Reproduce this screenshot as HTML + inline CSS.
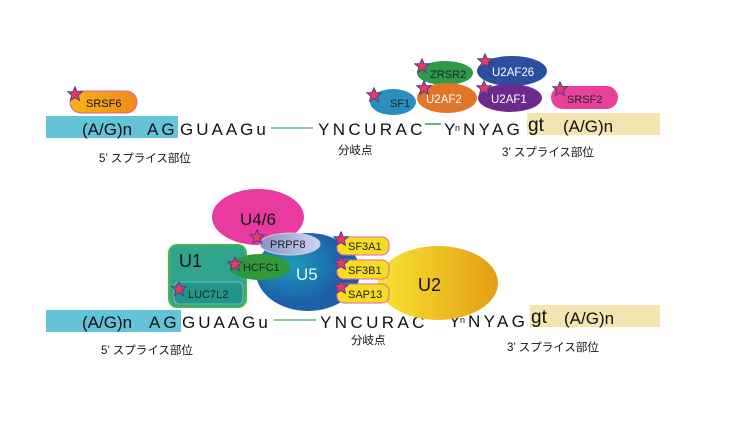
<!DOCTYPE html>
<html><head><meta charset="utf-8"><style>
html,body{margin:0;padding:0;background:#fff;width:737px;height:432px;overflow:hidden}
svg{display:block}
text{font-family:"Liberation Sans","Noto Sans CJK JP",sans-serif}
</style></head><body>
<svg width="737" height="432" viewBox="0 0 737 432" xmlns="http://www.w3.org/2000/svg">
<defs>
<symbol id="st" viewBox="-10 -10 20 20"><polygon points="0,-9 2.6,-3 9,-2.8 4,1.6 5.6,8 0,4.5 -5.6,8 -4,1.6 -9,-2.8 -2.6,-3" fill="#e83a5e" stroke="#4b3a9a" stroke-width="1.2"/></symbol>
<linearGradient id="og" x1="0" x2="1"><stop offset="0" stop-color="#f7b417"/><stop offset="1" stop-color="#ee8a1c"/></linearGradient>
<linearGradient id="yg" x1="0" x2="1"><stop offset="0" stop-color="#f8e432"/><stop offset="1" stop-color="#e59d14"/></linearGradient>
<radialGradient id="u5g" cx="0.35" cy="0.4"><stop offset="0" stop-color="#1c9cb8"/><stop offset="1" stop-color="#1d5fa8"/></radialGradient>
<linearGradient id="pg" x1="0" x2="1"><stop offset="0" stop-color="#8890c8"/><stop offset="1" stop-color="#d0d4ee"/></linearGradient>
</defs>
<g font-size="17" fill="#111">
<!-- TOP ROW -->
<rect x="46" y="116" width="132" height="22" fill="#64c3d7"/>
<rect x="527" y="113" width="133" height="22" fill="#f3e4b0"/>
<text x="82" y="135">(A/G)n</text>
<text x="147" y="135" letter-spacing="3">AG</text>
<text x="180" y="135" letter-spacing="3">GUAAGu</text>
<line x1="271" y1="128" x2="313" y2="128" stroke="#8ec88e" stroke-width="2"/>
<text x="318" y="135" letter-spacing="3.4">YNCURAC</text>
<line x1="425" y1="124" x2="441" y2="124" stroke="#3a9a3a" stroke-width="1.5"/>
<text x="444" y="135">Y</text><text x="455" y="131" font-size="9">n</text>
<text x="463" y="135" letter-spacing="3.3">NYAG</text>
<text x="528" y="131" font-size="19">gt</text>
<text x="563" y="132">(A/G)n</text>
<g font-size="11.5"><text x="99" y="162">5’ スプライス部位</text><text x="338" y="154">分岐点</text><text x="502" y="156">3’ スプライス部位</text></g>
<!-- proteins top -->
<rect x="70" y="91" width="67" height="22" rx="11" fill="url(#og)" stroke="#e05aa0" stroke-width="1"/>
<text x="86" y="107" font-size="11">SRSF6</text>
<use href="#st" x="67" y="86" width="16" height="16"/>
<ellipse cx="512" cy="71" rx="35" ry="15" fill="#2a4ea0"/>
<ellipse cx="445" cy="73" rx="28" ry="12" fill="#2e9a4a"/>
<ellipse cx="447" cy="98" rx="30" ry="15" fill="#e0762a"/>
<ellipse cx="510" cy="98" rx="32" ry="14" fill="#6c2a8e"/>
<ellipse cx="393" cy="102" rx="23" ry="13" fill="#2a8fbf"/>
<rect x="551" y="86" width="67" height="23" rx="11.5" fill="#e8419a"/>
<g font-size="11.5" fill="#fff"><text x="492" y="76">U2AF26</text><text x="491" y="103">U2AF1</text><text x="426" y="103">U2AF2</text></g>
<g font-size="11" fill="#222"><text x="430" y="78">ZRSR2</text><text x="390" y="107">SF1</text><text x="567" y="103">SRSF2</text></g>
<use href="#st" x="366" y="87" width="16" height="16"/>
<use href="#st" x="414" y="58" width="16" height="16"/>
<use href="#st" x="477" y="53" width="16" height="16"/>
<use href="#st" x="416" y="80" width="16" height="16"/>
<use href="#st" x="476" y="80" width="16" height="16"/>
<use href="#st" x="552" y="81" width="16" height="16"/>

<!-- BOTTOM ROW -->
<rect x="46" y="310" width="135" height="22" fill="#64c3d7"/>
<rect x="530" y="305" width="130" height="22" fill="#f3e4b0"/>
<text x="82" y="328">(A/G)n</text>
<text x="149" y="328" letter-spacing="3">AG</text>
<text x="182" y="328" letter-spacing="3">GUAAGu</text>
<line x1="274" y1="320" x2="316" y2="320" stroke="#8ec88e" stroke-width="2"/>
<text x="320" y="328" letter-spacing="3.4">YNCURAC</text>
<line x1="429" y1="317" x2="446" y2="317" stroke="#3a9a3a" stroke-width="1.5"/>
<text x="449" y="327">Y</text><text x="460" y="323" font-size="9">n</text>
<text x="468" y="327" letter-spacing="3.3">NYAG</text>
<text x="531" y="323" font-size="19">gt</text>
<text x="564" y="324">(A/G)n</text>
<g font-size="11.5"><text x="101" y="354">5’ スプライス部位</text><text x="351" y="344">分岐点</text><text x="507" y="351">3’ スプライス部位</text></g>
<!-- complexes -->
<ellipse cx="258" cy="217" rx="46" ry="28" fill="#e83aa0"/>
<text x="240" y="225" font-size="17">U4/6</text>
<rect x="169" y="245" width="77" height="62" rx="8" fill="#2fa58e" stroke="#45b84a" stroke-width="2"/>
<text x="179" y="267" font-size="18">U1</text>
<ellipse cx="438" cy="283" rx="60" ry="37" fill="url(#yg)"/>
<text x="418" y="291" font-size="18">U2</text>
<ellipse cx="308" cy="272" rx="52" ry="39" fill="url(#u5g)"/>
<text x="296" y="280" font-size="17" fill="#e8f6ff">U5</text>
<rect x="174" y="282" width="69" height="22" rx="5" fill="#1f9688" stroke="#7ab8b0" stroke-width="1"/>
<text x="188" y="298" font-size="11" fill="#222">LUC7L2</text>
<ellipse cx="260" cy="267" rx="30" ry="13" fill="#2f9a3c"/>
<text x="243" y="271" font-size="11" fill="#222">HCFC1</text>
<ellipse cx="290" cy="244" rx="30" ry="11" fill="url(#pg)" stroke="#ccd" stroke-width="1"/>
<text x="270" y="248" font-size="11" fill="#222">PRPF8</text>
<g fill="#f8dc20" stroke="#d86ab0" stroke-width="1">
<rect x="337" y="237" width="52" height="18" rx="7"/>
<rect x="337" y="260" width="52" height="19" rx="7"/>
<rect x="337" y="284" width="52" height="19" rx="7"/>
</g>
<g font-size="11" fill="#222"><text x="348" y="250">SF3A1</text><text x="348" y="274">SF3B1</text><text x="348" y="298">SAP13</text></g>
<use href="#st" x="249" y="229" width="16" height="16"/>
<use href="#st" x="227" y="256" width="16" height="16"/>
<use href="#st" x="171" y="281" width="16" height="16"/>
<use href="#st" x="333" y="231" width="16" height="16"/>
<use href="#st" x="333" y="255" width="16" height="16"/>
<use href="#st" x="333" y="279" width="16" height="16"/>
</g>
</svg>
</body></html>
